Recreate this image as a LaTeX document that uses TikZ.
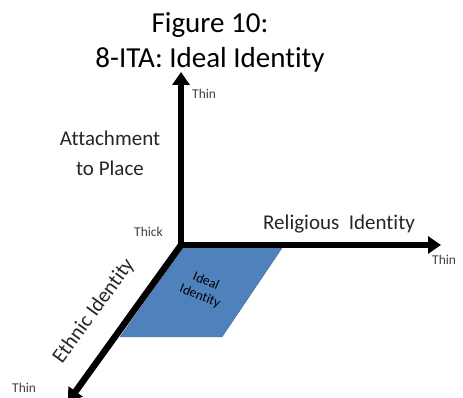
\documentclass[tikz,border=0pt]{standalone}
\usepackage{fontspec}
\setmainfont{Carlito}[Ligatures=NoCommon]
\usepackage{xcolor}
\usepackage{tikz}
\usetikzlibrary{positioning, arrows.meta}

\definecolor{idealblue}{HTML}{4F81BD}
\definecolor{idealedge}{HTML}{41719C}
\definecolor{labelgray}{HTML}{404040}

\begin{document}
\begin{tikzpicture}[x=1pt, y=1pt,
    axis/.style={line width=6.5pt, -{Triangle[length=13pt, width=17pt]}},
    small/.style={font=\fontsize{13.5}{16}\selectfont, text=labelgray, inner sep=0pt},
    big/.style={font=\fontsize{21}{30}\selectfont, text=black!85, inner sep=0pt, align=center}]
        \clip (0,0) rectangle (463,398);
        \fill[white] (0,0) rectangle (463,398);

        % Axes
        \coordinate (o) at (181,153);
        \coordinate (ytip) at (181,326);
        \coordinate (xtip) at (441,153);
        \coordinate (ztip) at (68,-4);

        % Ideal region
        \filldraw[fill=idealblue, draw=idealedge, thin] (183,150) -- (282,150) -- (222,61) -- (120,61) -- cycle;

        \draw[axis] ([yshift=-3pt]o) -- (ytip);
        \draw[axis] ([xshift=-3pt]o) -- (xtip);
        \draw[axis] ([shift={(1.5pt,2pt)}]o) -- (ztip);

        % Title
        \node[font=\fontsize{29}{35}\selectfont, anchor=base, inner sep=0pt] (fig) at (210,365) {Figure 10:};
        \node[font=\fontsize{29}{35}\selectfont, anchor=base, inner sep=0pt] (ita) at (210,330) {8-ITA: Ideal Identity};

        % Axis names
        \node[big] (place) at (110,245) {Attachment\\to Place};
        \node[big, anchor=base west] (rel) at (263,168) {Religious\ \ Identity};
        \node[big, rotate=54] (eth) at (94,87) {Ethnic Identity};
        \node[font=\fontsize{13.5}{16}\selectfont, rotate=-22, align=center, inner sep=0pt] (ideal) at (203,109) {Ideal\\Identity};

        % Ends of the axes
        \node[small, anchor=base west] (thintop) at (192,299) {Thin};
        \node[small, anchor=base west] (thinright) at (432,133) {Thin};
        \node[small, anchor=base west] (thinleft) at (12,5) {Thin};
        \node[small, anchor=base east] (thick) at (163,161) {Thick};
\end{tikzpicture}
\end{document}
